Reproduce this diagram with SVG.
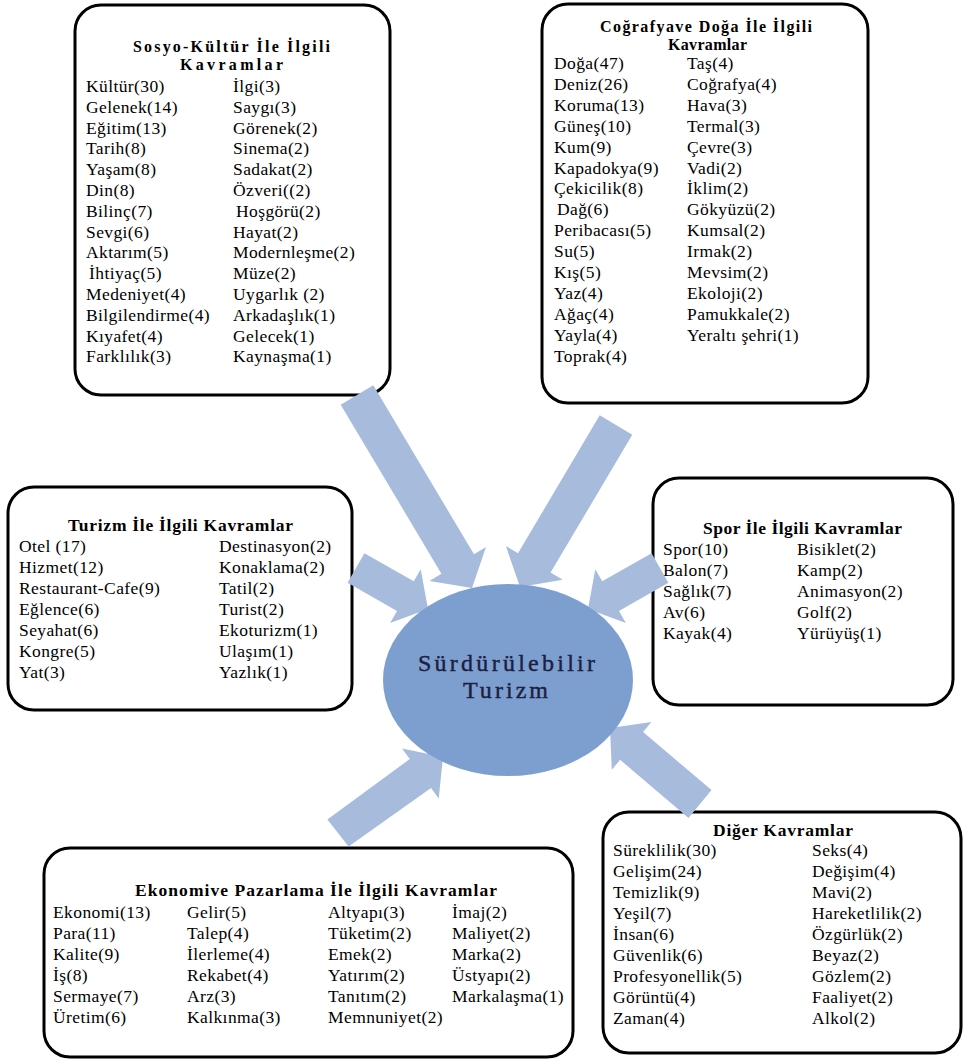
<svg xmlns="http://www.w3.org/2000/svg" width="964" height="1061" viewBox="0 0 964 1061">
<style>
.box{fill:#fff;stroke:#000;stroke-width:3}
.t{font-family:"Liberation Serif","Times New Roman",serif;font-size:17.5px;letter-spacing:0.4px;fill:#000}
.h{font-family:"Liberation Serif","Times New Roman",serif;font-size:17.5px;font-weight:bold;fill:#000}
.h2{font-family:"Liberation Serif","Times New Roman",serif;font-size:16px;font-weight:bold;fill:#000}
.arr{fill:#a7bcdc}
.c{font-family:"Liberation Serif","Times New Roman",serif;font-size:24px;fill:#1b2040;stroke:#1b2040;stroke-width:0.4}
</style>
<rect width="964" height="1061" fill="#fff"/>

<g id="node-sosyo">
<rect class="box" x="75" y="5" width="315" height="390" rx="26"/>
<text class="h2" x="133" y="52" textLength="197" lengthAdjust="spacing">Sosyo-Kültür İle İlgili</text>
<text class="h2" x="180" y="70" textLength="103" lengthAdjust="spacing">Kavramlar</text>
<text class="t" x="86"><tspan x="86" y="92">Kültür(30)</tspan><tspan x="86" y="113">Gelenek(14)</tspan><tspan x="86" y="134">Eğitim(13)</tspan><tspan x="86" y="154">Tarih(8)</tspan><tspan x="86" y="175">Yaşam(8)</tspan><tspan x="86" y="196">Din(8)</tspan><tspan x="86" y="217">Bilinç(7)</tspan><tspan x="86" y="238">Sevgi(6)</tspan><tspan x="86" y="258">Aktarım(5)</tspan><tspan x="89" y="279">İhtiyaç(5)</tspan><tspan x="86" y="300">Medeniyet(4)</tspan><tspan x="86" y="321">Bilgilendirme(4)</tspan><tspan x="86" y="342">Kıyafet(4)</tspan><tspan x="86" y="362">Farklılık(3)</tspan></text>
<text class="t" x="233"><tspan x="233" y="92">İlgi(3)</tspan><tspan x="233" y="113">Saygı(3)</tspan><tspan x="233" y="134">Görenek(2)</tspan><tspan x="233" y="154">Sinema(2)</tspan><tspan x="233" y="175">Sadakat(2)</tspan><tspan x="233" y="196">Özveri((2)</tspan><tspan x="236" y="217">Hoşgörü(2)</tspan><tspan x="233" y="238">Hayat(2)</tspan><tspan x="233" y="258">Modernleşme(2)</tspan><tspan x="233" y="279">Müze(2)</tspan><tspan x="233" y="300">Uygarlık (2)</tspan><tspan x="233" y="321">Arkadaşlık(1)</tspan><tspan x="233" y="342">Gelecek(1)</tspan><tspan x="233" y="362">Kaynaşma(1)</tspan></text>
</g>

<g id="node-cografya">
<rect class="box" x="542" y="4" width="326" height="399" rx="26"/>
<text class="h2" x="600" y="32" textLength="212" lengthAdjust="spacing">Coğrafyave Doğa İle İlgili</text>
<text class="h2" x="668" y="50" textLength="79" lengthAdjust="spacing">Kavramlar</text>
<text class="t" x="554"><tspan x="554" y="69">Doğa(47)</tspan><tspan x="554" y="90">Deniz(26)</tspan><tspan x="554" y="111">Koruma(13)</tspan><tspan x="554" y="132">Güneş(10)</tspan><tspan x="554" y="153">Kum(9)</tspan><tspan x="554" y="174">Kapadokya(9)</tspan><tspan x="554" y="194">Çekicilik(8)</tspan><tspan x="557" y="215">Dağ(6)</tspan><tspan x="554" y="236">Peribacası(5)</tspan><tspan x="554" y="257">Su(5)</tspan><tspan x="554" y="278">Kış(5)</tspan><tspan x="554" y="299">Yaz(4)</tspan><tspan x="554" y="320">Ağaç(4)</tspan><tspan x="554" y="341">Yayla(4)</tspan><tspan x="554" y="362">Toprak(4)</tspan></text>
<text class="t" x="687"><tspan x="687" y="69">Taş(4)</tspan><tspan x="687" y="90">Coğrafya(4)</tspan><tspan x="687" y="111">Hava(3)</tspan><tspan x="687" y="132">Termal(3)</tspan><tspan x="687" y="153">Çevre(3)</tspan><tspan x="687" y="174">Vadi(2)</tspan><tspan x="687" y="194">İklim(2)</tspan><tspan x="687" y="215">Gökyüzü(2)</tspan><tspan x="687" y="236">Kumsal(2)</tspan><tspan x="687" y="257">Irmak(2)</tspan><tspan x="687" y="278">Mevsim(2)</tspan><tspan x="687" y="299">Ekoloji(2)</tspan><tspan x="687" y="320">Pamukkale(2)</tspan><tspan x="687" y="341">Yeraltı şehri(1)</tspan></text>
</g>

<g id="node-turizm">
<rect class="box" x="8" y="487" width="344" height="223" rx="26"/>
<text class="h" x="68" y="531" textLength="225" lengthAdjust="spacing">Turizm İle İlgili Kavramlar</text>
<text class="t" x="19"><tspan x="19" y="552">Otel (17)</tspan><tspan x="19" y="573">Hizmet(12)</tspan><tspan x="19" y="594">Restaurant-Cafe(9)</tspan><tspan x="19" y="615">Eğlence(6)</tspan><tspan x="19" y="636">Seyahat(6)</tspan><tspan x="19" y="657">Kongre(5)</tspan><tspan x="19" y="678">Yat(3)</tspan></text>
<text class="t" x="219"><tspan x="219" y="552">Destinasyon(2)</tspan><tspan x="219" y="573">Konaklama(2)</tspan><tspan x="219" y="594">Tatil(2)</tspan><tspan x="219" y="615">Turist(2)</tspan><tspan x="219" y="636">Ekoturizm(1)</tspan><tspan x="219" y="657">Ulaşım(1)</tspan><tspan x="219" y="678">Yazlık(1)</tspan></text>
</g>

<g id="node-spor">
<rect class="box" x="653" y="478" width="300" height="227" rx="26"/>
<text class="h" x="703" y="534" textLength="199" lengthAdjust="spacing">Spor İle İlgili Kavramlar</text>
<text class="t" x="663"><tspan x="663" y="555">Spor(10)</tspan><tspan x="663" y="576">Balon(7)</tspan><tspan x="663" y="597">Sağlık(7)</tspan><tspan x="663" y="618">Av(6)</tspan><tspan x="663" y="639">Kayak(4)</tspan></text>
<text class="t" x="797"><tspan x="797" y="555">Bisiklet(2)</tspan><tspan x="797" y="576">Kamp(2)</tspan><tspan x="797" y="597">Animasyon(2)</tspan><tspan x="797" y="618">Golf(2)</tspan><tspan x="797" y="639">Yürüyüş(1)</tspan></text>
</g>

<g id="node-ekonomi">
<rect class="box" x="44" y="848" width="529" height="209" rx="26"/>
<text class="h" x="135" y="896" textLength="362" lengthAdjust="spacing">Ekonomive Pazarlama İle İlgili Kavramlar</text>
<text class="t" x="53"><tspan x="53" y="918">Ekonomi(13)</tspan><tspan x="53" y="939">Para(11)</tspan><tspan x="53" y="960">Kalite(9)</tspan><tspan x="53" y="981">İş(8)</tspan><tspan x="53" y="1002">Sermaye(7)</tspan><tspan x="53" y="1023">Üretim(6)</tspan></text>
<text class="t" x="187"><tspan x="187" y="918">Gelir(5)</tspan><tspan x="187" y="939">Talep(4)</tspan><tspan x="187" y="960">İlerleme(4)</tspan><tspan x="187" y="981">Rekabet(4)</tspan><tspan x="187" y="1002">Arz(3)</tspan><tspan x="187" y="1023">Kalkınma(3)</tspan></text>
<text class="t" x="328"><tspan x="328" y="918">Altyapı(3)</tspan><tspan x="328" y="939">Tüketim(2)</tspan><tspan x="328" y="960">Emek(2)</tspan><tspan x="328" y="981">Yatırım(2)</tspan><tspan x="328" y="1002">Tanıtım(2)</tspan><tspan x="328" y="1023">Memnuniyet(2)</tspan></text>
<text class="t" x="452"><tspan x="452" y="918">İmaj(2)</tspan><tspan x="452" y="939">Maliyet(2)</tspan><tspan x="452" y="960">Marka(2)</tspan><tspan x="452" y="981">Üstyapı(2)</tspan><tspan x="452" y="1002">Markalaşma(1)</tspan></text>
</g>

<g id="node-diger">
<rect class="box" x="603" y="812" width="358" height="241" rx="26"/>
<text class="h" x="713" y="836" textLength="140" lengthAdjust="spacing">Diğer Kavramlar</text>
<text class="t" x="613"><tspan x="613" y="856">Süreklilik(30)</tspan><tspan x="613" y="877">Gelişim(24)</tspan><tspan x="613" y="898">Temizlik(9)</tspan><tspan x="613" y="919">Yeşil(7)</tspan><tspan x="613" y="940">İnsan(6)</tspan><tspan x="613" y="961">Güvenlik(6)</tspan><tspan x="613" y="982">Profesyonellik(5)</tspan><tspan x="613" y="1003">Görüntü(4)</tspan><tspan x="613" y="1024">Zaman(4)</tspan></text>
<text class="t" x="812"><tspan x="812" y="856">Seks(4)</tspan><tspan x="812" y="877">Değişim(4)</tspan><tspan x="812" y="898">Mavi(2)</tspan><tspan x="812" y="919">Hareketlilik(2)</tspan><tspan x="812" y="940">Özgürlük(2)</tspan><tspan x="812" y="961">Beyaz(2)</tspan><tspan x="812" y="982">Gözlem(2)</tspan><tspan x="812" y="1003">Faaliyet(2)</tspan><tspan x="812" y="1024">Alkol(2)</tspan></text>
</g>

<g id="connectors">
<polygon class="arr" points="340.7,404.7 441.4,573.7 429.4,580.9 472,588 486,547.1 474,554.3 373.3,385.3"/>
<polygon class="arr" points="599.7,415.3 518,553.2 505.9,546.1 520,587 562.7,579.7 550.6,572.6 632.3,434.7"/>
<polygon class="arr" points="364.4,553.2 413.8,581.3 420.7,569.2 428,609 390.1,623 397,610.9 347.6,582.8"/>
<polygon class="arr" points="651.6,553.2 602.2,581.3 595.3,569.2 588,609 625.9,623 619,610.9 668.4,582.8"/>
<polygon class="arr" points="327.4,819.5 409.8,759 402.1,748.5 443,757 438.7,798.5 431,788 348.6,846.5"/>
<polygon class="arr" points="711.5,790.1 643.1,732 651.4,722 610,728 611.8,769.8 620.1,759.8 688.5,817.9"/>
</g>

<g id="node-center">
<ellipse cx="508" cy="680" rx="125" ry="96" fill="#7d9fd0"/>
<text class="c" x="418" y="671" textLength="177" lengthAdjust="spacing">Sürdürülebilir</text>
<text class="c" x="463" y="698" textLength="85" lengthAdjust="spacing">Turizm</text>
</g>
</svg>
